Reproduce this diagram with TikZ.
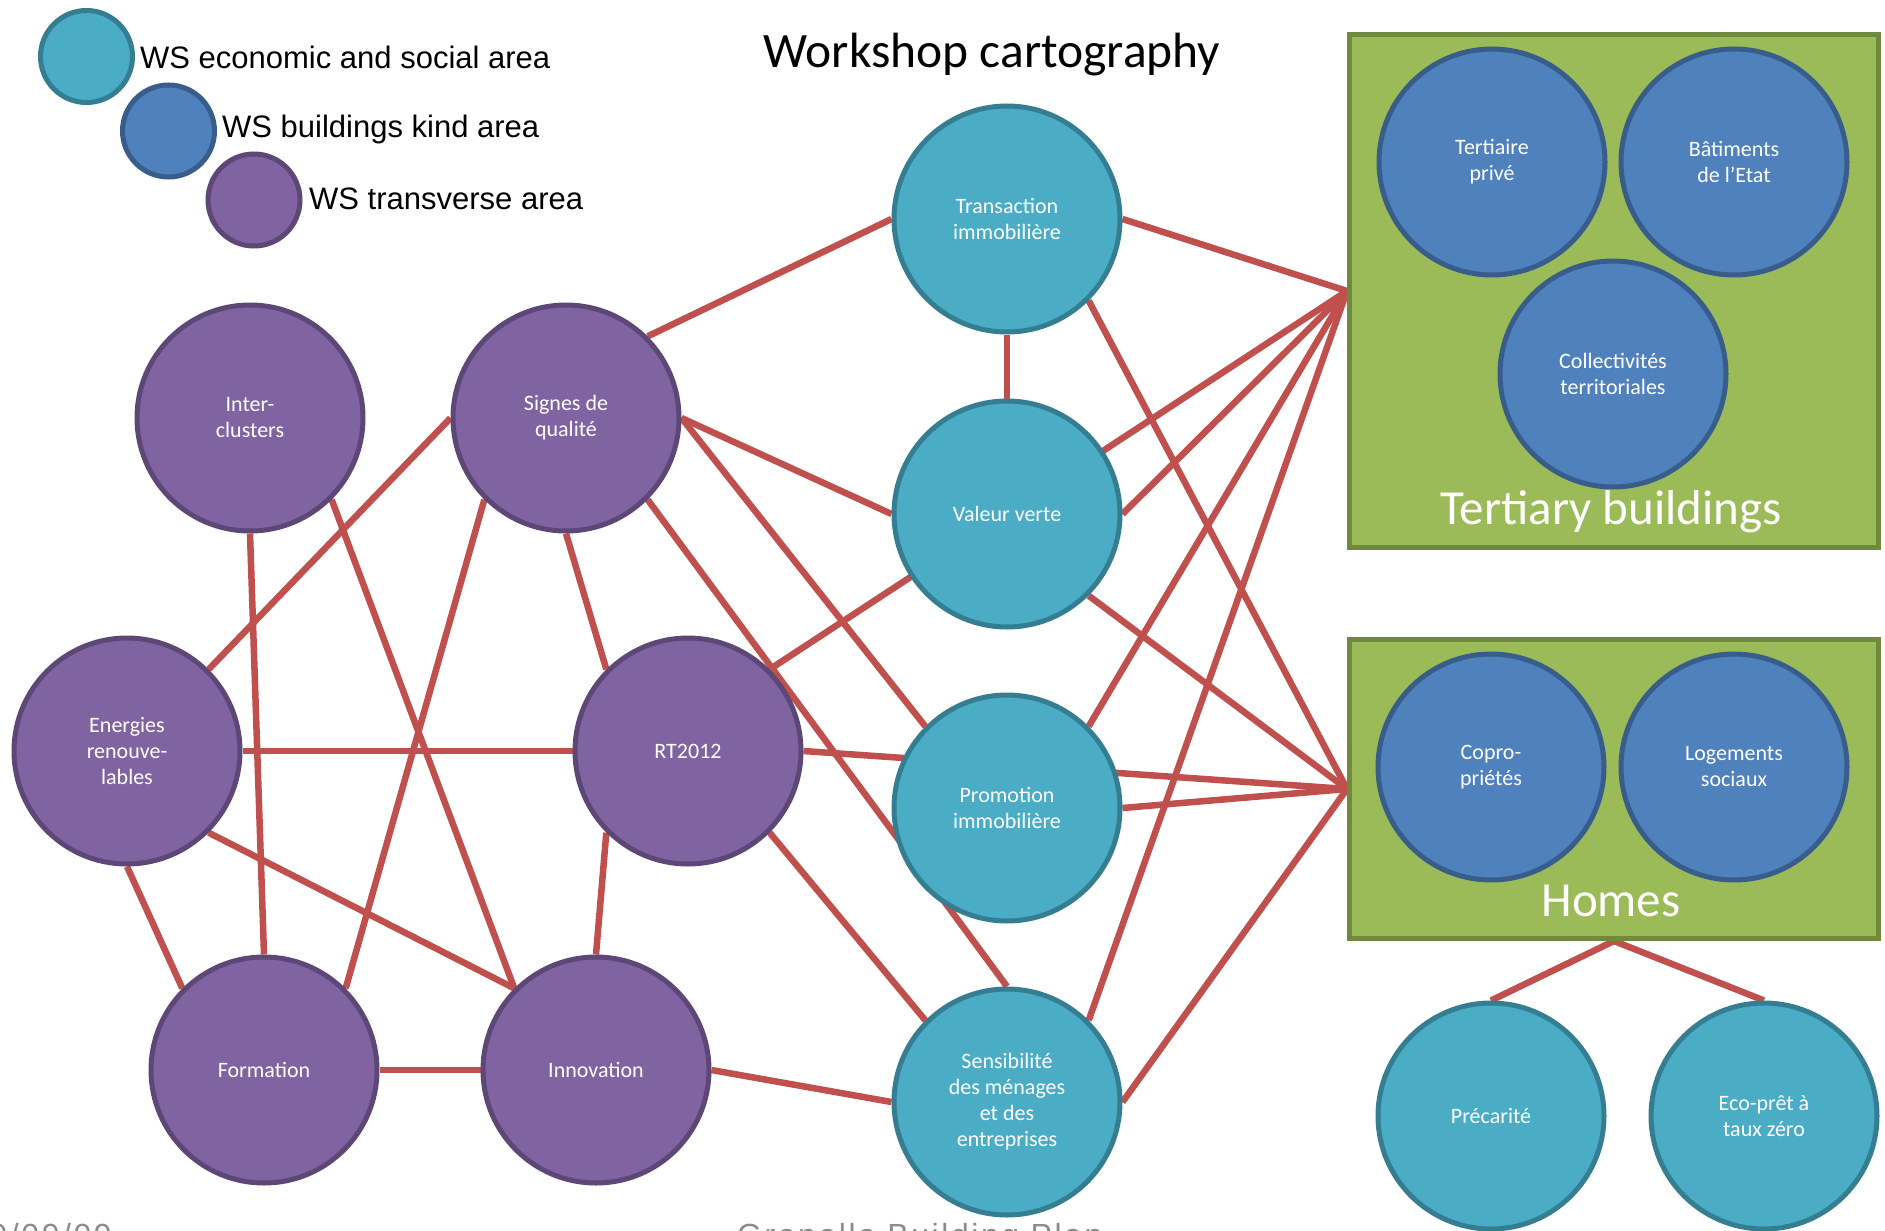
\documentclass[tikz,border=0pt]{standalone}
\usepackage{fontspec}
\setmainfont{Liberation Sans}
\newfontfamily\calib{Carlito}
\newfontfamily\arialLS[LetterSpace=8]{Liberation Sans}
\usetikzlibrary{positioning}
\definecolor{cyanF}{HTML}{4BACC6}
\definecolor{cyanD}{HTML}{357D91}
\definecolor{blueF}{HTML}{4F81BD}
\definecolor{blueD}{HTML}{385D8A}
\definecolor{purF}{HTML}{8064A2}
\definecolor{purD}{HTML}{5C4776}
\definecolor{grnF}{HTML}{9BBB59}
\definecolor{grnD}{HTML}{71893F}
\definecolor{redL}{HTML}{C0504D}
\definecolor{footG}{HTML}{8C8C8C}
\pgfdeclarelayer{bottom}
\pgfdeclarelayer{background}
\pgfsetlayers{bottom,background,main}
\begin{document}
\begin{tikzpicture}[x=1pt,y=-1pt,
  bub/.style={circle,inner sep=0pt,minimum size=226pt,line width=5pt,text=white,align=center,
    font=\calib\fontsize{22}{26}\selectfont},
  ecoS/.style={bub,fill=cyanF,draw=cyanD},
  bldS/.style={bub,fill=blueF,draw=blueD},
  trvS/.style={bub,fill=purF,draw=purD},
  legc/.style={circle,inner sep=0pt,minimum size=92pt,line width=5pt},
  legt/.style={anchor=base west,inner sep=0pt,font=\fontsize{31}{36}\selectfont},
  zone/.style={rectangle,inner sep=0pt,fill=grnF,draw=grnD,line width=5pt},
  zonet/.style={anchor=base,inner sep=0pt,text=white,font=\calib\fontsize{49}{56}\selectfont},
  link/.style={draw=redL,line width=6.5pt},
  foot/.style={inner sep=0pt,text=footG,font=\arialLS\fontsize{32}{38}\selectfont}]
\useasboundingbox (0,0) rectangle (1885,1231);
\begin{pgfonlayer}{bottom}
\fill[white] (0,0) rectangle (1885,1231);
\end{pgfonlayer}

% legend
\node[legc,fill=cyanF,draw=cyanD] (lc1) at (86.5,56.5) {};
\node[legc,fill=blueF,draw=blueD] (lc2) at (168.5,131) {};
\node[legc,fill=purF,draw=purD] (lc3) at (254,200) {};
\node[legt] (lt1) at (140,69) {WS economic and social area};
\node[legt] (lt2) at (222,137) {WS buildings kind area};
\node[legt] (lt3) at (309,209) {WS transverse area};

% title
\node[anchor=base,inner sep=0pt,font=\calib\fontsize{49.5}{56}\selectfont] (title) at (992,68) {Workshop cartography};

% green zones
\node[zone,minimum width=529pt,minimum height=513pt] (TB) at (1614,291) {};
\node[zone,minimum width=529pt,minimum height=299pt] (HB) at (1614,789) {};
\node[zonet] (TBt) at (1611,524) {Tertiary buildings};
\node[zonet] (HBt) at (1611,916) {Homes};

% economic and social
\node[ecoS] (trans) at (1007,219) {Transaction\\immobilière};
\node[ecoS] (valeur) at (1007,514) {Valeur verte};
\node[ecoS] (promo) at (1007,808) {Promotion\\immobilière};
\node[ecoS] (sensi) at (1007,1102) {Sensibilité\\des ménages\\et des\\entreprises};
\node[ecoS] (prec) at (1491,1116) {Précarité};
\node[ecoS] (eco) at (1764,1116) {Eco-prêt à\\taux zéro};

% transverse
\node[trvS] (inter) at (250,418) {Inter-\\clusters};
\node[trvS] (signes) at (566,418) {Signes de\\qualité};
\node[trvS] (energ) at (127,751) {Energies\\renouve-\\lables};
\node[trvS] (rt) at (688,751) {RT2012};
\node[trvS] (form) at (264,1070) {Formation};
\node[trvS] (innov) at (596,1070) {Innovation};

% buildings kind
\node[bldS] (tert) at (1492,162) {Tertiaire\\privé};
\node[bldS] (bat) at (1734,162) {Bâtiments\\de l’Etat};
\node[bldS] (coll) at (1613,374) {Collectivités\\territoriales};
\node[bldS] (copro) at (1491,767) {Copro-\\priétés};
\node[bldS] (loge) at (1734,767) {Logements\\sociaux};

% footer (cut by the page edge, as in the reference)
\node[foot,anchor=base east] (fdate) at (112,1246) {09/09/09};
\node[foot,anchor=base west] (fname) at (737,1246) {Grenelle Building Plan};

\begin{pgfonlayer}{background}
\path[link] (signes.north east) -- (trans.west);
\path[link] (trans.east) -- (TB.west);
\path[link] (trans.south) -- (valeur.north);
\path[link] (trans.south east) -- (HB.west);
\path[link] (rt.north east) -- (TB.west);
\path[link] (valeur.east) -- (TB.west);
\path[link] (valeur.south east) -- (HB.west);
\path[link] (signes.east) -- (valeur.west);
\path[link] (signes.east) -- (promo.north west);
\path[link] (signes.south east) -- (sensi.north);
\path[link] (rt.east) -- (HB.west);
\path[link] (rt.south east) -- (sensi.north west);
\path[link] (energ.east) -- (rt.west);
\path[link] (energ.north east) -- (signes.west);
\path[link] (energ.south east) -- (innov.north west);
\path[link] (energ.south) -- (form.north west);
\path[link] (inter.south) -- (form.north);
\path[link] (inter.south east) -- (innov.north west);
\path[link] (signes.south west) -- (form.north east);
\path[link] (signes.south) -- (rt.north west);
\path[link] (rt.south west) -- (innov.north);
\path[link] (form.east) -- (innov.west);
\path[link] (innov.east) -- (sensi.west);
\path[link] (promo.north east) -- (TB.west);
\path[link] (promo.east) -- (HB.west);
\path[link] (sensi.north east) -- (TB.west);
\path[link] (sensi.east) -- (HB.west);
\path[link] (HB.south) -- (prec.north);
\path[link] (HB.south) -- (eco.north);
\end{pgfonlayer}
\end{tikzpicture}
\end{document}
